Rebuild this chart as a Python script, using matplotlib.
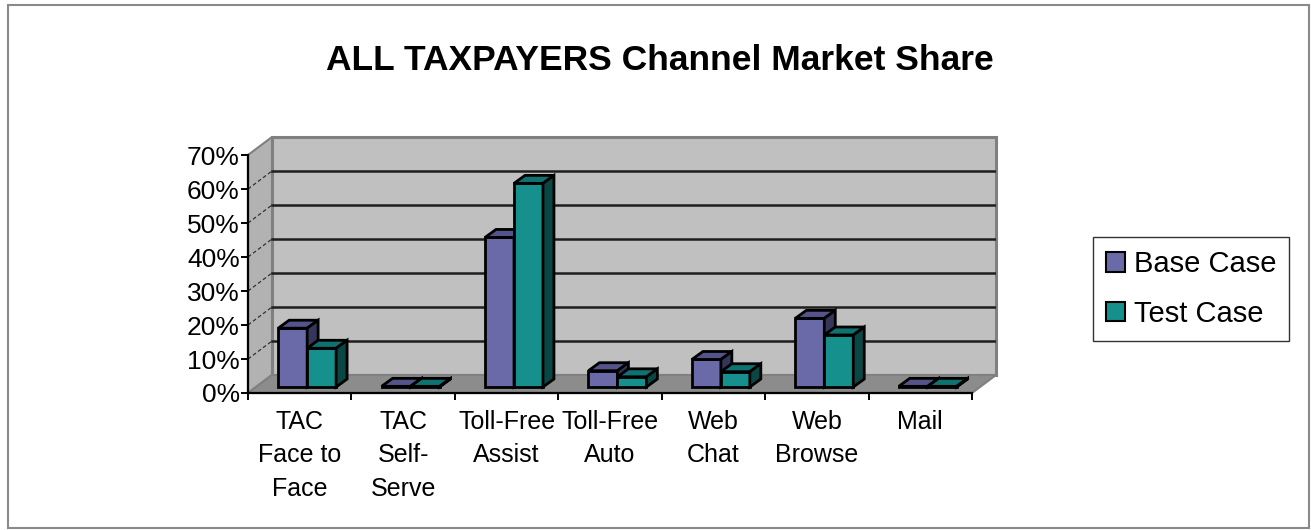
import matplotlib
matplotlib.use("Agg")
import matplotlib.pyplot as plt
from matplotlib.patches import Polygon, Rectangle, Patch

plt.rcParams['font.family'] = ['Liberation Sans', 'DejaVu Sans']

categories = ["TAC\nFace to\nFace", "TAC\nSelf-\nServe", "Toll-Free\nAssist",
              "Toll-Free\nAuto", "Web\nChat", "Web\nBrowse", "Mail"]
base_case = [17.3, 0.2, 44.0, 4.8, 8.1, 20.2, 0.2]
test_case = [11.4, 0.2, 59.9, 3.0, 4.5, 15.3, 0.2]
y_ticks = [0, 10, 20, 30, 40, 50, 60, 70]

# fake 3d: depth of the chart box and of the bars, in data units
DX, DY = 0.232, 5.3
OX, OY = 0.077, 1.76      # bars sit a third of the way back on the floor
BDX, BDY = 0.106, 2.35    # bar depth
W = 0.28
n = len(categories)
ymax = y_ticks[-1]

fig = plt.figure(figsize=(13.11, 5.30), dpi=100)
ax = fig.add_axes([248 / 1311, 1 - 393 / 530, (996 - 248) / 1311, (393 - 137) / 530])
ax.set_xlim(0, n + DX)
ax.set_ylim(0, ymax + DY)
ax.patch.set_visible(False)

# walls and floor
ax.add_patch(Rectangle((DX, DY), n, ymax, facecolor='#c0c0c0', edgecolor='#808080',
                       lw=2.2, zorder=0, clip_on=False))
ax.add_patch(Polygon([(0, 0), (DX, DY), (DX, ymax + DY), (0, ymax)], closed=True,
                     facecolor='#b2b2b2', edgecolor='#808080', lw=1.5, zorder=0, clip_on=False))
ax.add_patch(Polygon([(0, 0), (n, 0), (n + DX, DY), (DX, DY)], closed=True,
                     facecolor='#8c8c8c', edgecolor='#808080', lw=1.5, zorder=1, clip_on=False))
for t in y_ticks[1:-1]:
    ax.plot([DX, n + DX], [t + DY, t + DY], color='#1e1e1e', lw=1.8, zorder=1)
    ax.plot([0, DX], [t, t + DY], color='#333333', lw=0.9, ls=(0, (3, 2)), zorder=1)


def draw_bars(offset, vals, front, top, side, z):
    xs = [i + offset + OX for i in range(n)]
    ax.bar(xs, vals, W, bottom=OY, align='edge', color=front, edgecolor='black',
           lw=2.0, zorder=z)
    for x0, v in zip(xs, vals):
        x1 = x0 + W
        yt = OY + v
        ax.add_patch(Polygon([(x0, yt), (x1, yt), (x1 + BDX, yt + BDY), (x0 + BDX, yt + BDY)],
                             closed=True, facecolor=top, edgecolor='black', lw=2.0, zorder=z))
        ax.add_patch(Polygon([(x1, OY), (x1 + BDX, OY + BDY), (x1 + BDX, yt + BDY), (x1, yt)],
                             closed=True, facecolor=side, edgecolor='black', lw=2.0, zorder=z))


draw_bars(0.215, base_case, '#6b6aa8', '#55548a', '#36355a', 3)
draw_bars(0.495, test_case, '#16908c', '#107270', '#0a4644', 4)

# axes
for s in ['top', 'right']:
    ax.spines[s].set_visible(False)
ax.spines['left'].set_bounds(0, ymax)
ax.spines['bottom'].set_bounds(0, n)
ax.spines['left'].set_linewidth(1.6)
ax.spines['bottom'].set_linewidth(1.6)
ax.spines['left'].set_zorder(2)
ax.spines['bottom'].set_zorder(2)

ax.set_yticks(y_ticks)
ax.set_yticklabels([f"{t}%" for t in y_ticks], fontsize=19)
ax.tick_params(axis='y', length=5, width=1.4, pad=1)

ax.set_xticks([i + 0.5 for i in range(n)])
ax.set_xticklabels(categories, fontsize=18, linespacing=1.5, va='top')
ax.set_xticks(range(n + 1), minor=True)
ax.tick_params(axis='x', which='major', length=0, pad=12)
ax.tick_params(axis='x', which='minor', length=5, width=1.4)

handles = [Patch(facecolor='#6b6aa8', edgecolor='black', lw=1.5),
           Patch(facecolor='#16908c', edgecolor='black', lw=1.5)]
leg = fig.legend(handles, ['Base Case', 'Test Case'], loc='center left',
                 bbox_to_anchor=(1093 / 1311, 1 - 289 / 530), fontsize=21,
                 frameon=True, fancybox=False, edgecolor='black', handlelength=0.65,
                 handleheight=0.65, handletextpad=0.3, labelspacing=0.75,
                 borderpad=0.45, borderaxespad=0)
leg.get_frame().set_linewidth(1.0)

fig.text(660 / 1311, 1 - 60 / 530, "ALL TAXPAYERS Channel Market Share",
         fontsize=25.5, fontweight='bold', ha='center', va='center')

fig.patches.append(Rectangle((8 / 1311, 2 / 530), 1301 / 1311, 523 / 530,
                             transform=fig.transFigure, fill=False,
                             edgecolor='#8a8a8a', lw=1.5))

fig.savefig("out.png", dpi=100)
